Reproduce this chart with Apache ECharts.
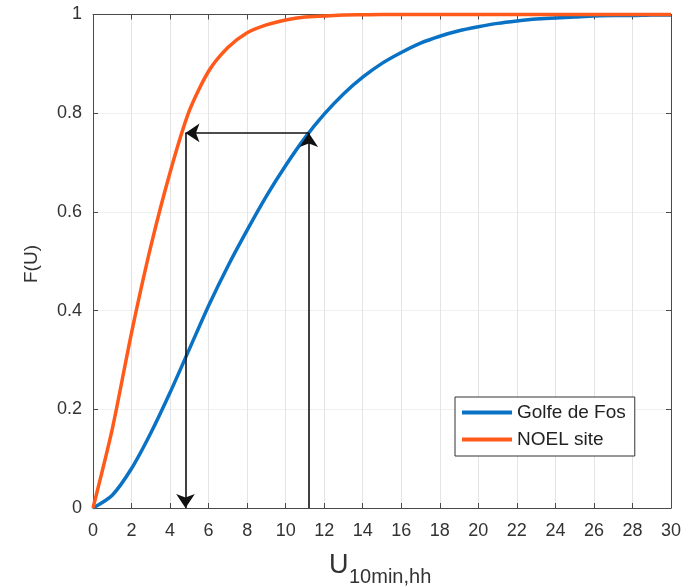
<!DOCTYPE html>
<html>
<head>
<meta charset="utf-8">
<script src="https://cdn.jsdelivr.net/npm/echarts@6/dist/echarts.min.js"></script>
<style>
html,body{margin:0;padding:0;background:#fff;}
#chart{width:694px;height:587px;}
</style>
</head>
<body>
<div id="chart"></div>
<script>
// ---- data ----
var xValues = [0,1,2,3,4,5,6,7,8,9,10,11,12,13,14,15,16,17,18,19,20,21,22,23,24,25,26,27,28,29,30];
var golfeDeFos = [0,0.026,0.080,0.152,0.234,0.322,0.410,0.490,0.563,0.632,0.694,0.750,0.798,0.839,0.873,0.901,0.923,0.942,0.956,0.967,0.975,0.982,0.987,0.991,0.993,0.995,0.997,0.998,0.998,0.999,0.999];
var noelSite = [0,0.160,0.355,0.530,0.680,0.805,0.885,0.933,0.963,0.979,0.989,0.995,0.997,0.999,0.9995,1,1,1,1,1,1,1,1,1,1,1,1,1,1,1,1];
var seriesNames = ['Golfe de Fos', 'NOEL site'];
var arrowX = [4.8, 11.2];   // NOEL, Golfe de Fos
var arrowY = 0.76;
var xTicks = {min: 0, max: 30, interval: 2};
var yTicks = {min: 0, max: 1, interval: 0.2};

function pairs(xs, ys){ return xs.map(function(x,i){ return [x, ys[i]]; }); }

var arrowLines = [
  {coords: [[arrowX[1], 0], [arrowX[1], arrowY]]},
  {coords: [[arrowX[1], arrowY], [arrowX[0], arrowY]]},
  {coords: [[arrowX[0], arrowY], [arrowX[0], 0]]}
];

var font = '"Liberation Sans", Arial, sans-serif';
var axisColor = '#4a4a4a';
var chart = echarts.init(document.getElementById('chart'));
chart.setOption({
  animation: false,
  backgroundColor: '#fff',
  grid: {left: 93, right: 23, top: 14.5, bottom: 79, containLabel: false},
  xAxis: [{
    type: 'value', min: xTicks.min, max: xTicks.max, interval: xTicks.interval,
    position: 'bottom',
    axisLine: {onZero: false, lineStyle: {color: axisColor, width: 1}},
    axisTick: {inside: true, length: 5, lineStyle: {color: axisColor}},
    axisLabel: {color: '#333', fontSize: 18, fontFamily: font, margin: 14},
    splitLine: {show: true, lineStyle: {color: '#e4e4e4', width: 1}}
  }, {
    type: 'value', min: xTicks.min, max: xTicks.max, interval: xTicks.interval,
    position: 'top',
    axisLine: {onZero: false, lineStyle: {color: axisColor, width: 1}},
    axisTick: {inside: true, length: 5, lineStyle: {color: axisColor}},
    axisLabel: {show: false},
    splitLine: {show: false}
  }],
  yAxis: [{
    type: 'value', min: yTicks.min, max: yTicks.max, interval: yTicks.interval,
    position: 'left',
    axisLine: {show: true, onZero: false, lineStyle: {color: axisColor, width: 1}},
    axisTick: {show: true, inside: true, length: 5, lineStyle: {color: axisColor}},
    axisLabel: {color: '#333', fontSize: 18, fontFamily: font, margin: 11,
      formatter: function(v){ return String(Math.round(v*10)/10); }},
    splitLine: {show: true, lineStyle: {color: '#efefef', width: 1}}
  }, {
    type: 'value', min: yTicks.min, max: yTicks.max, interval: yTicks.interval,
    position: 'right',
    axisLine: {show: true, onZero: false, lineStyle: {color: axisColor, width: 1}},
    axisTick: {show: true, inside: true, length: 5, lineStyle: {color: axisColor}},
    axisLabel: {show: false},
    splitLine: {show: false}
  }],
  legend: {
    data: seriesNames,
    orient: 'vertical',
    left: 455, top: 397,
    padding: [6, 9, 7, 7],
    itemGap: 8,
    itemWidth: 50, itemHeight: 4,
    icon: 'rect',
    backgroundColor: '#fff',
    borderColor: '#333', borderWidth: 1, borderRadius: 0,
    textStyle: {color: '#222', fontSize: 19, fontFamily: font, padding: [0,0,0,0]}
  },
  graphic: [
    {type: 'text', x: 32, y: 264, rotation: Math.PI/2,
     style: {text: 'F(U)', fontSize: 19, fontFamily: font, fill: '#333', textAlign: 'center', textVerticalAlign: 'middle'}},
    {type: 'text', x: 329, y: 566,
     style: {text: 'U', fontSize: 27, fontFamily: font, fill: '#333', textAlign: 'left', textVerticalAlign: 'middle'}},
    {type: 'text', x: 349, y: 577,
     style: {text: '10min,hh', fontSize: 20, fontFamily: font, fill: '#333', textAlign: 'left', textVerticalAlign: 'middle'}}
  ],
  series: [{
    name: seriesNames[0], type: 'line', data: pairs(xValues, golfeDeFos),
    showSymbol: false, symbol: 'none', clip: false,
    smooth: 0.25,
    color: '#0a72c4',
    lineStyle: {color: '#0a72c4', width: 3.5}, z: 3
  }, {
    name: seriesNames[1], type: 'line', data: pairs(xValues, noelSite),
    showSymbol: false, symbol: 'none', clip: false,
    smooth: 0.25,
    color: '#ff5a1a',
    lineStyle: {color: '#ff5a1a', width: 3.5}, z: 3
  }, {
    type: 'lines', coordinateSystem: 'cartesian2d',
    data: arrowLines,
    symbol: ['none', 'arrow'], symbolSize: [11, 14],
    lineStyle: {color: '#111', width: 1.6, opacity: 1, curveness: 0},
    z: 4, silent: true
  }]
});
</script>
</body>
</html>
